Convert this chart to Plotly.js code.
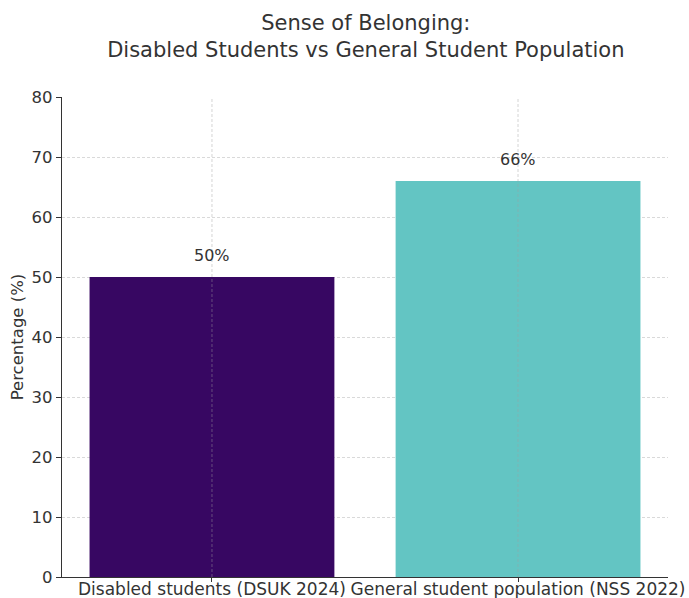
<!DOCTYPE html>
<html>
<head>
<meta charset="utf-8">
<script src="https://cdn.plot.ly/plotly-3.0.1.min.js"></script>
<style>html,body{margin:0;padding:0;background:#fff;}#chart{width:689px;height:598px;}</style>
</head>
<body>
<div id="chart"></div>
<script>
const categories = ["Disabled students (DSUK 2024)", "General student population (NSS 2022)"];
const values = [50, 66];
const labels = ["50%", "66%"];
const colors = ["#370762", "#63c5c3"];
const yTicks = [0, 10, 20, 30, 40, 50, 60, 70, 80];

const font = "DejaVu Sans, sans-serif";
const textColor = "#333333";

const trace = {
  type: "bar",
  x: categories,
  y: values,
  marker: {color: colors, line: {width: 0}},
  width: 0.8,
  hoverinfo: "none"
};

const annotations = categories.map((c, i) => ({
  x: c, y: values[i], xref: "x", yref: "y",
  text: labels[i], showarrow: false,
  yanchor: "middle", yshift: 22,
  font: {family: font, size: 16, color: textColor}
}));

const shapes = categories.map(c => ({
  type: "line", xref: "x", yref: "paper",
  x0: c, x1: c, y0: 0, y1: 1, layer: "above",
  line: {color: "rgba(160,160,160,0.45)", width: 1, dash: "3px,2px"}
}));

const layout = {
  width: 689, height: 598,
  margin: {l: 62, r: 21, t: 97, b: 21},
  paper_bgcolor: "#ffffff", plot_bgcolor: "#ffffff",
  font: {family: font, color: textColor, size: 16},
  title: {
    text: "Sense of Belonging:<br>Disabled Students vs General Student Population",
    font: {family: font, size: 21, color: textColor},
    x: 0.531, xanchor: "center", y: 0.95, yanchor: "top"
  },
  showlegend: false,
  bargap: 0.2,
  xaxis: {
    type: "category",
    range: [-0.49, 1.49],
    showline: true, linecolor: "#333333", linewidth: 1.2,
    ticks: "outside", ticklen: 4, tickcolor: "#333333",
    showgrid: false, zeroline: false,
    tickfont: {family: font, size: 17, color: textColor},
    ticklabelstandoff: -8,
    fixedrange: true
  },
  yaxis: {
    range: [0, 80],
    tickvals: yTicks,
    showline: true, linecolor: "#333333", linewidth: 1.2,
    ticks: "outside", ticklen: 5, tickcolor: "#333333",
    showgrid: true, gridcolor: "#d9d9d9", griddash: "3px,2px", gridwidth: 1,
    zeroline: false,
    tickfont: {family: font, size: 16.5, color: textColor},
    title: {text: "Percentage (%)", font: {family: font, size: 16.5, color: textColor}, standoff: 3},
    fixedrange: true
  },
  annotations: annotations,
  shapes: shapes
};

Plotly.newPlot("chart", [trace], layout, {displayModeBar: false, staticPlot: true});
</script>
</body>
</html>
